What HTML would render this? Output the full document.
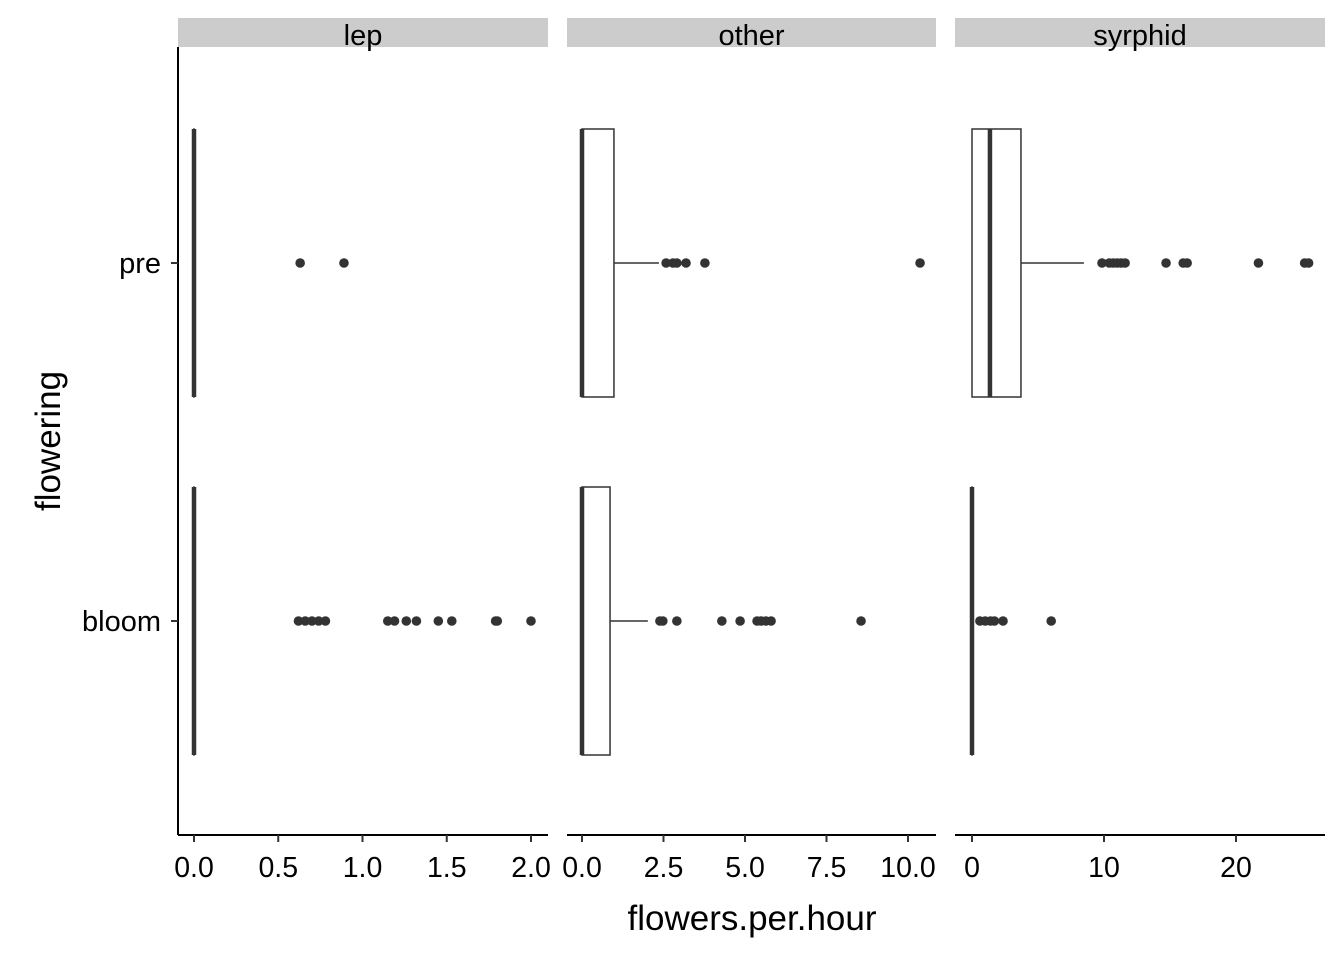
<!DOCTYPE html>
<html><head><meta charset="utf-8"><style>
body{margin:0;background:#fff;}
svg text{font-family:"Liberation Sans",Arial,sans-serif;}
</style></head><body>
<svg id="chart" width="1344" height="960" viewBox="0 0 1344 960"></svg>
<script>
const panels=["lep","other","syrphid"];
const groups=["pre","bloom"];
const tickVals={lep:[0,0.5,1,1.5,2],other:[0,2.5,5,7.5,10],syrphid:[0,10,20]};
const tickLabels={lep:["0.0","0.5","1.0","1.5","2.0"],other:["0.0","2.5","5.0","7.5","10.0"],syrphid:["0","10","20"]};
// box stats: [q1, median, q3, whiskerHigh]
const boxStats={
 lep:{pre:[0,0,0,0],bloom:[0,0,0,0]},
 other:{pre:[0,0,0.98,2.36],bloom:[0,0,0.86,2.02]},
 syrphid:{pre:[0,1.36,3.71,8.48],bloom:[0,0,0,0]}
};
const outliers={
 lep:{pre:[0.63,0.89],bloom:[0.62,0.66,0.70,0.74,0.78,1.15,1.19,1.26,1.32,1.45,1.53,1.79,1.80,2.0]},
 other:{pre:[2.58,2.79,2.91,3.19,3.77,10.37],bloom:[2.39,2.48,2.91,4.29,4.85,5.37,5.49,5.64,5.80,8.56]},
 syrphid:{pre:[9.85,10.4,10.7,11.0,11.3,11.6,14.7,16.0,16.3,21.7,25.2,25.5],bloom:[0.6,1.0,1.4,1.7,2.35,6.0]}
};
const svg=document.getElementById('chart');
const NS='http://www.w3.org/2000/svg';
function mk(tag,attrs,parent){const e=document.createElementNS(NS,tag);for(const k in attrs)e.setAttribute(k,attrs[k]);(parent||svg).appendChild(e);return e;}
const px={lep:[178,548],other:[567,936],syrphid:[955,1325]};
const zeroPx={lep:194,other:582,syrphid:972};
const scale={lep:168.5,other:32.6,syrphid:13.2};
function xs(p,v){return zeroPx[p]+v*scale[p];}
const yPos={pre:263,bloom:621};
const halfH=134;
panels.forEach(p=>{
  const g=mk('g',{});
  
  
  const [x0,x1]=px[p];
  const strip=mk('rect',{x:x0,y:18,width:x1-x0,height:29,fill:'#cccccc'},g);
  
  
  const st=mk('text',{x:(x0+x1)/2,y:45,'text-anchor':'middle','font-size':29,fill:'#000'},g);
  st.textContent=p;
  
  
  const ax=mk('line',{x1:x0,x2:x1,y1:835,y2:835,stroke:'#000','stroke-width':2},g);
  
  
  tickVals[p].forEach((v,i)=>{
    const x=xs(p,v);
    mk('line',{x1:x,x2:x,y1:835,y2:842,stroke:'#333','stroke-width':2},g);
    const t=mk('text',{x:x,y:877,'text-anchor':'middle','font-size':28.5,fill:'#000'},g);
    t.textContent=tickLabels[p][i];
    
    
  });
  groups.forEach(gr=>{
    const [q1,med,q3,wh]=boxStats[p][gr];const y=yPos[gr];
    if(wh>q3){mk('line',{x1:xs(p,q3),x2:xs(p,wh),y1:y,y2:y,stroke:'#333','stroke-width':1.5},g);}
    const b=mk('rect',{x:xs(p,q1),y:y-halfH,width:Math.max(xs(p,q3)-xs(p,q1),0.01),height:2*halfH,fill:'#fff',stroke:'#333','stroke-width':1.5},g);
    
    
    mk('line',{x1:xs(p,med),x2:xs(p,med),y1:y-halfH,y2:y+halfH,stroke:'#333','stroke-width':4.5},g);
    outliers[p][gr].forEach(v=>{
      const c=mk('circle',{cx:xs(p,v),cy:y,r:4.8,fill:'#333'},g);
      
      
    });
  });
});
const ya=mk('line',{x1:178,x2:178,y1:47,y2:835,stroke:'#000','stroke-width':2});


groups.forEach(gr=>{
  mk('line',{x1:171,x2:178,y1:yPos[gr],y2:yPos[gr],stroke:'#333','stroke-width':2});
  const t=mk('text',{x:161,y:yPos[gr]+10,'text-anchor':'end','font-size':29,fill:'#000'});
  t.textContent=gr;
  
  
});
const xt=mk('text',{x:752,y:930,'text-anchor':'middle','font-size':35,fill:'#000'});
xt.textContent='flowers.per.hour';


const yt=mk('text',{x:0,y:0,'text-anchor':'middle','font-size':35,fill:'#000',transform:'translate(60,441) rotate(-90)'});
yt.textContent='flowering';


</script>
</body></html>
